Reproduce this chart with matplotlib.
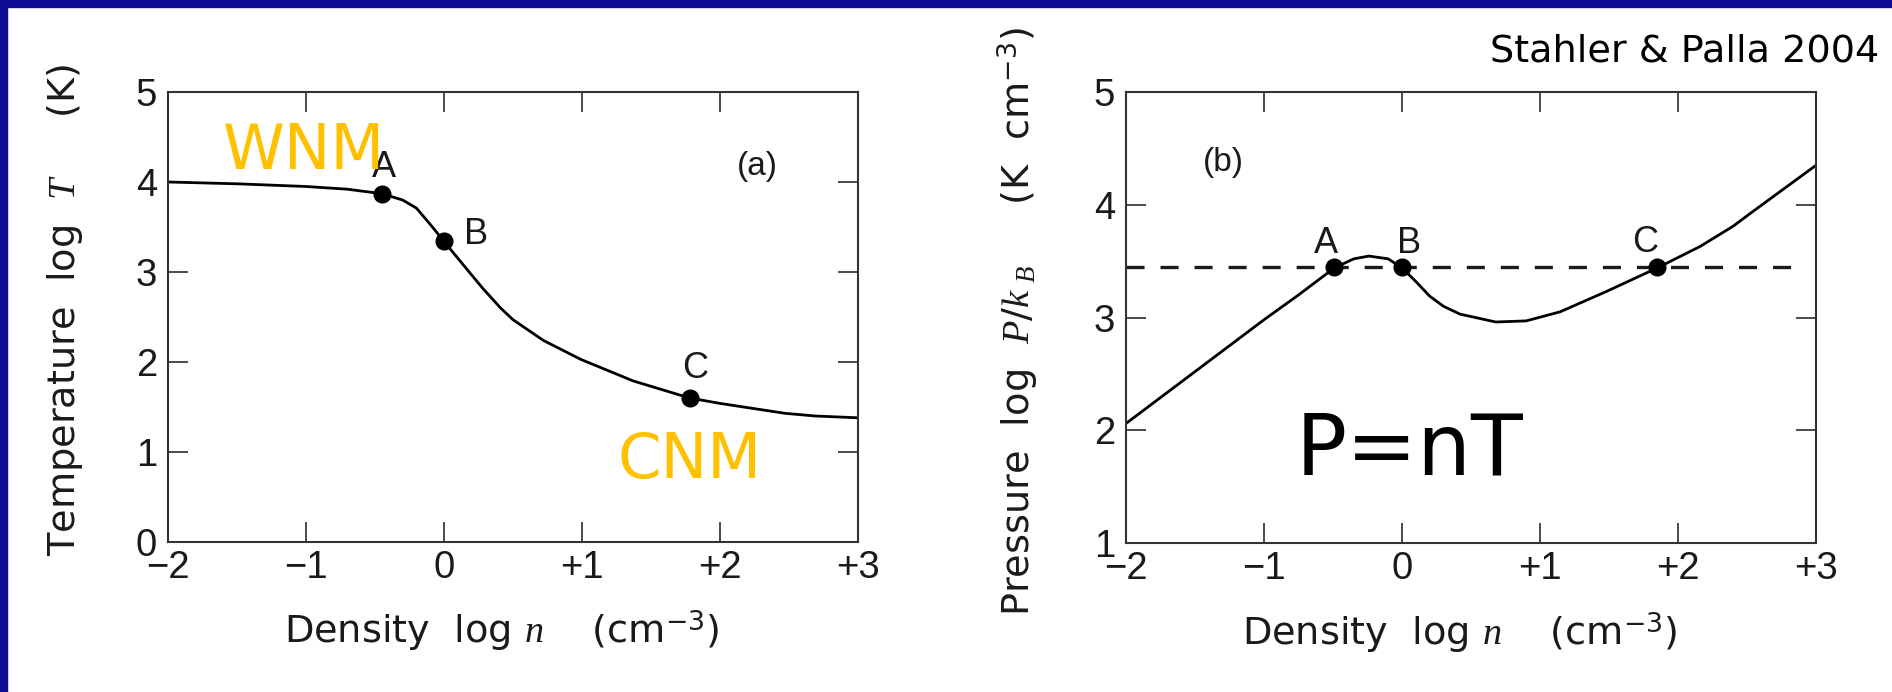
"""Thermal equilibrium of the ISM: log T and log P/k vs log n (Stahler & Palla 2004)."""

import matplotlib
matplotlib.use("Agg")
import matplotlib.pyplot as plt
from matplotlib.patches import Rectangle

plt.rcParams["font.family"] = ["Liberation Sans", "DejaVu Sans"]
plt.rcParams["mathtext.fontset"] = "custom"
plt.rcParams["mathtext.rm"] = "DejaVu Sans"
plt.rcParams["mathtext.it"] = "Liberation Serif:italic"
plt.rcParams["lines.scale_dashes"] = False

# panel (a): log T vs log n
logn_a = [-2.0, -1.5, -1.0, -0.7, -0.45, -0.3, -0.2, -0.1, 0.0, 0.15, 0.28,
          0.41, 0.5, 0.72, 0.99, 1.37, 1.78, 2.0, 2.47, 2.69, 3.0]
logT = [4.00, 3.98, 3.95, 3.92, 3.87, 3.80, 3.71, 3.53, 3.34, 3.06, 2.82,
        2.60, 2.47, 2.24, 2.03, 1.79, 1.60, 1.54, 1.43, 1.40, 1.38]
pts_a_x = [-0.45, 0.0, 1.78]
pts_a_y = [3.87, 3.34, 1.60]

# panel (b): log P/k vs log n
logn_b = [-2.0, -1.5, -1.0, -0.75, -0.49, -0.35, -0.24, -0.1, 0.0, 0.1, 0.2,
          0.3, 0.42, 0.68, 0.9, 1.145, 1.48, 1.85, 2.16, 2.4, 2.52, 3.0]
logP = [2.06, 2.52, 2.98, 3.20, 3.44, 3.52, 3.545, 3.52, 3.44, 3.32, 3.19,
        3.10, 3.03, 2.96, 2.97, 3.05, 3.23, 3.44, 3.63, 3.81, 3.92, 4.35]
pts_b_x = [-0.49, 0.0, 1.85]
pts_b_y = [3.445, 3.445, 3.445]
P_eq = 3.445

point_names = ["A", "B", "C"]
xticks = [-2, -1, 0, 1, 2, 3]
xticklabels = ["\u22122", "\u22121", "0", "+1", "+2", "+3"]

W, H = 1892, 692
fig = plt.figure(figsize=(W / 100, H / 100), dpi=100)
fig.patch.set_facecolor("white")

# navy slide border (top and left)
blue = "#0d0d94"
fig.add_artist(Rectangle((0, 1 - 7 / H), 1, 7 / H, transform=fig.transFigure,
                         color=blue, zorder=0))
fig.add_artist(Rectangle((0, 0), 7 / W, 1, transform=fig.transFigure,
                         color=blue, zorder=0))

ax1 = fig.add_axes([168 / W, 1 - 542 / H, 690 / W, 450 / H])
ax2 = fig.add_axes([1126 / W, 1 - 543 / H, 690 / W, 451 / H])

ink = "#1a1a1a"
label_font = "DejaVu Sans"


def style_axes(ax, yticks):
    ax.set_xlim(-2, 3)
    ax.set_xticks(xticks)
    ax.set_xticklabels(xticklabels)
    ax.set_yticks(yticks)
    ax.set_yticklabels([str(v) for v in yticks])
    ax.tick_params(direction="in", length=14.5, width=1.1, top=True,
                   right=True, labelsize=27.5, colors=ink, pad=6)
    ax.tick_params(axis="y", pad=8)
    for sp in ax.spines.values():
        sp.set_linewidth(1.5)
        sp.set_color("#333333")
    ax.set_xlabel(r"Density  log $n$    (cm$^{-3}$)", fontsize=27.5,
                  color=ink, va="center", family=label_font)
    ax.xaxis.set_label_coords(0.483, -0.2)


# ---- panel (a)
ax1.set_ylim(0, 5)
style_axes(ax1, [0, 1, 2, 3, 4, 5])
ax1.plot(logn_a, logT, color="black", lw=2.0, solid_capstyle="round")
ax1.plot(pts_a_x, pts_a_y, "o", color="black", ms=12)
offs_a = [(1.5, 19), (23, 5), (4, 21)]
for name, x, y, (dx, dy) in zip(point_names, pts_a_x, pts_a_y, offs_a):
    ax1.annotate(name, (x, y), textcoords="offset points", xytext=(dx, dy),
                 ha="center", va="center", fontsize=26, color=ink)
ax1.text(2.268, 4.17, "(a)", fontsize=24, ha="center", va="center", color=ink)
ax1.set_ylabel(r"Temperature  log  $T$     (K)", fontsize=27.5, color=ink,
               va="center", family=label_font)
ax1.yaxis.set_label_coords(-0.149, 0.515)
ax1.text(-1.014, 4.144, "WNM", fontsize=45, color="#FFC000", ha="center",
         va="baseline", family="DejaVu Sans")
ax1.text(1.783, 0.711, "CNM", fontsize=45, color="#FFC000", ha="center",
         va="baseline", family="DejaVu Sans")

# ---- panel (b)
ax2.set_ylim(1, 5)
style_axes(ax2, [1, 2, 3, 4, 5])
ax2.plot(logn_b, logP, color="black", lw=2.0, solid_capstyle="round")
ax2.plot([-2, 2.92], [P_eq, P_eq], color="#1a1a1a", lw=2.4,
         dashes=(13, 11.5))
ax2.plot(pts_b_x, pts_b_y, "o", color="black", ms=12)
offs_b = [(-6, 17.5), (5, 17.5), (-8.5, 18)]
for name, x, y, (dx, dy) in zip(point_names, pts_b_x, pts_b_y, offs_b):
    ax2.annotate(name, (x, y), textcoords="offset points", xytext=(dx, dy),
                 ha="center", va="center", fontsize=26, color=ink)
ax2.text(-1.297, 4.374, "(b)", fontsize=24, ha="center", va="center",
         color=ink)
ax2.set_ylabel(r"Pressure  log  $P/k\;{}_{B}$     (K  cm$^{-3}$)",
               fontsize=27.5, color=ink, va="center", family=label_font)
ax2.yaxis.set_label_coords(-0.156, 0.49)
ax2.text(0.056, 1.607, "P=nT", fontsize=61, color="black", ha="center",
         va="baseline", family="DejaVu Sans")

fig.text(1879 / W, 1 - 62 / H, "Stahler & Palla 2004", fontsize=27.5,
         ha="right", va="baseline", color="black", family="DejaVu Sans")

fig.savefig("out.png", dpi=100, facecolor="white")
